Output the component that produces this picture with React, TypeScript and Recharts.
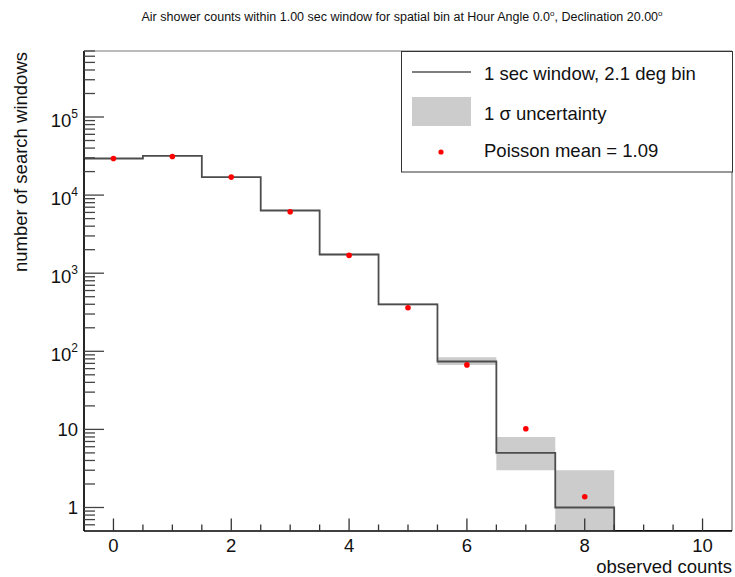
import React from "react";
import { ComposedChart, Area, Line, Scatter, XAxis, YAxis, ReferenceLine, Legend } from "recharts";

// observed histogram, one entry per bin (bin centre = observed count)
const binCenters = [0, 1, 2, 3, 4, 5, 6, 7, 8, 9, 10];
const windowCounts = [29400, 31700, 17000, 6350, 1735, 400, 74, 5, 1, 0, 0];
// 1 sigma band per bin
const bandLow = [29230, 31520, 16870, 6270, 1693, 388, 67, 3, 0, 0, 0];
const bandHigh = [29570, 31880, 17130, 6430, 1777, 412, 84, 8, 3, 0, 0];
// Poisson expectation (mean = 1.09)
const poissonCounts = [0, 1, 2, 3, 4, 5, 6, 7, 8];
const poissonValues = [29400, 31200, 17000, 6110, 1690, 361, 67, 10.2, 1.37];

const xMajorTicks = [0, 2, 4, 6, 8, 10];
const xMinorTicks = [0.5, 1, 1.5, 2.5, 3, 3.5, 4.5, 5, 5.5, 6.5, 7, 7.5, 8.5, 9, 9.5];
const yDecades = [1, 10, 100, 1000, 10000, 100000];
const yLabelBase = ["1", "10", "10", "10", "10", "10"];
const yLabelExp = ["", "", "2", "3", "4", "5"];
const yMinorSteps = [2, 3, 4, 5, 6, 7, 8, 9];

const Y_MIN = 0.5;
const Y_MAX = 700000;
const FONT = "'Liberation Sans', Arial, Helvetica, sans-serif";

const stepData = binCenters.map((c, i) => ({ x: c - 0.5, y: Math.max(windowCounts[i], Y_MIN) }));
stepData.push({ x: binCenters[binCenters.length - 1] + 0.5, y: stepData[stepData.length - 1].y });

const bandBins = binCenters.map((c, i) => i).filter((i) => bandHigh[i] > 0);
const bandData = bandBins.map((i) => ({ x: binCenters[i] - 0.5, band: [Math.max(bandLow[i], Y_MIN), bandHigh[i]] }));
const lastBand = bandBins[bandBins.length - 1];
bandData.push({ x: binCenters[lastBand] + 0.5, band: bandData[bandData.length - 1].band });

const poissonData = poissonCounts.map((x, i) => ({ x, y: poissonValues[i] }));

const yMinor = [0.6, 0.7, 0.8, 0.9];
yDecades.forEach((d) => yMinorSteps.forEach((m) => { if (d * m <= Y_MAX) yMinor.push(d * m); }));
const yTicks = [...yDecades, ...yMinor].sort((a, b) => a - b);
const xTicks = [...xMajorTicks, ...xMinorTicks].sort((a, b) => a - b);

const XTick = ({ x, y, payload }: any) => {
  const major = xMajorTicks.includes(payload.value);
  return (
    <g>
      <line x1={x} x2={x} y1={y} y2={y - (major ? 12.5 : 6.5)} stroke="#333" strokeWidth={1.3} />
      {major && (
        <text x={x} y={y + 21} textAnchor="middle" fontSize={18.5} fontFamily={FONT} fill="#111">
          {payload.value}
        </text>
      )}
    </g>
  );
};

const YTick = ({ x, y, payload }: any) => {
  const idx = yDecades.indexOf(payload.value);
  const major = idx >= 0;
  const exp = major ? yLabelExp[idx] : "";
  return (
    <g>
      <line x1={x} x2={x + (major ? 20 : 11)} y1={y} y2={y} stroke="#444" strokeWidth={1.3} />
      {major && !exp && (
        <text x={x - 6} y={y + 6.5} textAnchor="end" fontSize={18.5} fontFamily={FONT} fill="#111">
          {yLabelBase[idx]}
        </text>
      )}
      {major && exp && (
        <text x={x - 6} y={y + 9.5} textAnchor="end" fontSize={18.5} fontFamily={FONT} fill="#111">
          {yLabelBase[idx]}
          <tspan fontSize={12} dy={-8.5}>{exp}</tspan>
        </text>
      )}
    </g>
  );
};

const LegendBox = () => (
  <svg width={332} height={122} style={{ display: "block" }}>
    <rect x={0.5} y={0.5} width={331} height={120.5} fill="#fff" stroke="#333" strokeWidth={1} />
    <line x1={11} x2={70} y1={21} y2={21} stroke="#555" strokeWidth={1.5} />
    <text x={83} y={29} fontSize={18.5} fontFamily={FONT} fill="#111">1 sec window, 2.1 deg bin</text>
    <rect x={11} y={46} width={59} height={29} fill="#cccccc" />
    <text x={83} y={69} fontSize={18.5} fontFamily={FONT} fill="#111">1 σ uncertainty</text>
    <circle cx={40} cy={101} r={2.6} fill="#ff0000" />
    <text x={83} y={106} fontSize={18.5} fontFamily={FONT} fill="#111">Poisson mean = 1.09</text>
  </svg>
);

const Dot = ({ cx, cy }: any) => <circle cx={cx} cy={cy} r={2.8} fill="#ff0000" />;

export default function App() {
  return (
    <div style={{ position: "absolute", left: 0, top: 0, width: 735, height: 577, background: "#fff" }}>
      <svg width={735} height={30} style={{ position: "absolute", left: 0, top: 0 }}>
        <text x={402} y={21} textAnchor="middle" fontSize={12.5} fontFamily={FONT} fill="#111">
          Air shower counts within 1.00 sec window for spatial bin at Hour Angle 0.0
          <tspan fontSize={8} dy={-5}>o</tspan>
          <tspan dy={5}>, Declination 20.00</tspan>
          <tspan fontSize={8} dy={-5}>o</tspan>
        </text>
      </svg>
      <ComposedChart width={735} height={577} margin={{ top: 51, right: 3, bottom: 0, left: 0 }}>
        <XAxis
          type="number"
          dataKey="x"
          domain={[-0.5, 10.5]}
          allowDataOverflow
          ticks={xTicks}
          interval={0}
          tickSize={0}
          tickMargin={0}
          tickLine={false}
          tick={(p: any) => <XTick {...p} />}
          axisLine={{ stroke: "#000", strokeWidth: 1.7 }}
          height={46}
          label={() => (
            <text x={732} y={573} textAnchor="end" fontSize={18.5} fontFamily={FONT} fill="#111">
              observed counts
            </text>
          )}
        />
        <YAxis
          type="number"
          scale="log"
          domain={[Y_MIN, Y_MAX]}
          allowDataOverflow
          ticks={yTicks}
          interval={0}
          tickSize={0}
          tickMargin={0}
          tickLine={false}
          tick={(p: any) => <YTick {...p} />}
          axisLine={{ stroke: "#000", strokeWidth: 1.7 }}
          width={84}
          label={() => (
            <text x={27} y={52} transform="rotate(-90 27 52)" textAnchor="end" fontSize={18.5} fontFamily={FONT} fill="#111">
              number of search windows
            </text>
          )}
        />
        <ReferenceLine y={Y_MAX} stroke="#777" strokeWidth={1.2} />
        <ReferenceLine x={10.5} stroke="#777" strokeWidth={1.2} />
        <Area
          data={bandData}
          dataKey="band"
          type="stepAfter"
          stroke="none"
          fill="#cccccc"
          fillOpacity={1}
          isAnimationActive={false}
          dot={false}
          activeDot={false}
        />
        <Line
          data={stepData}
          dataKey="y"
          type="stepAfter"
          stroke="#4d4d4d"
          strokeWidth={1.8}
          dot={false}
          activeDot={false}
          isAnimationActive={false}
        />
        <Scatter data={poissonData} dataKey="y" shape={<Dot />} isAnimationActive={false} />
        <Legend
          layout="vertical"
          align="center"
          verticalAlign="middle"
          content={() => <LegendBox />}
          wrapperStyle={{ position: "absolute", left: 401, top: 51, width: 332, height: 122 }}
        />
      </ComposedChart>
    </div>
  );
}
